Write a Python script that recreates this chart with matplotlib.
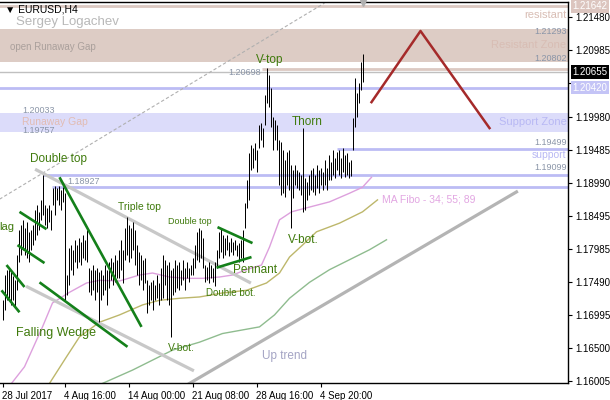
import numpy as np
import matplotlib
matplotlib.use("Agg")
import matplotlib.pyplot as plt
import matplotlib.transforms as mtransforms

plt.rcParams['font.family'] = ['Liberation Sans', 'DejaVu Sans']

# EURUSD H4 bars, 28 Jul - 8 Sep 2017 (high / low)
highs = [
    1.1722, 1.1760, 1.1768, 1.1771, 1.1764, 1.1759, 1.1752, 1.1790, 1.1828, 1.1835,
    1.1843, 1.1831, 1.1840, 1.1825, 1.1828, 1.1835, 1.1858, 1.1865, 1.1855, 1.1873,
    1.1910, 1.1865, 1.1861, 1.1865, 1.1858, 1.1891, 1.1894, 1.1891, 1.1894, 1.1888,
    1.1892, 1.1883, 1.1760, 1.1801, 1.1805, 1.1798, 1.1813, 1.1805, 1.1816, 1.1810,
    1.1820, 1.1813, 1.1828, 1.1771, 1.1768, 1.1775, 1.1768, 1.1771, 1.1764, 1.1768,
    1.1760, 1.1775, 1.1768, 1.1780, 1.1786, 1.1780, 1.1790, 1.1783, 1.1798, 1.1813,
    1.1798, 1.1831, 1.1847, 1.1835, 1.1831, 1.1840, 1.1828, 1.1805, 1.1795, 1.1790,
    1.1783, 1.1786, 1.1752, 1.1745, 1.1749, 1.1752, 1.1745, 1.1760, 1.1748, 1.1771,
    1.1790, 1.1783, 1.1775, 1.1780, 1.1768, 1.1771, 1.1783, 1.1775, 1.1780, 1.1768,
    1.1783, 1.1771, 1.1780, 1.1771, 1.1775, 1.1786, 1.1805, 1.1825, 1.1831, 1.1828,
    1.1816, 1.1775, 1.1772, 1.1780, 1.1775, 1.1771, 1.1780, 1.1798, 1.1825, 1.1831,
    1.1820, 1.1816, 1.1820, 1.1810, 1.1816, 1.1810, 1.1813, 1.1805, 1.1808, 1.1813,
    1.1828, 1.1868, 1.1903, 1.1943, 1.1956, 1.1951, 1.1959, 1.1948, 1.1986, 1.1989,
    1.1981, 1.2031, 1.2071, 1.2061, 1.2041, 1.1998, 1.1993, 1.1986, 1.1963, 1.1960,
    1.1948, 1.1933, 1.1945, 1.1948, 1.1925, 1.1918, 1.1925, 1.1918, 1.1915, 1.1910,
    1.1981, 1.1906, 1.1900, 1.1910, 1.1918, 1.1921, 1.1910, 1.1925, 1.1918, 1.1921,
    1.1915, 1.1933, 1.1921, 1.1940, 1.1930, 1.1948, 1.1936, 1.1945, 1.1948, 1.1936,
    1.1951, 1.1940, 1.1943, 1.1930, 1.1933, 1.1996, 1.2056, 1.2034, 1.2049, 1.2080,
    1.2092,
]
lows = [
    1.1692, 1.1707, 1.1722, 1.1725, 1.1715, 1.1722, 1.1710, 1.1737, 1.1780, 1.1790,
    1.1798, 1.1790, 1.1786, 1.1780, 1.1798, 1.1805, 1.1813, 1.1820, 1.1828, 1.1843,
    1.1850, 1.1835, 1.1831, 1.1840, 1.1828, 1.1865, 1.1850, 1.1873, 1.1865, 1.1858,
    1.1870, 1.1722, 1.1730, 1.1745, 1.1768, 1.1760, 1.1780, 1.1771, 1.1780, 1.1775,
    1.1786, 1.1783, 1.1780, 1.1734, 1.1730, 1.1737, 1.1722, 1.1734, 1.1689, 1.1722,
    1.1730, 1.1737, 1.1715, 1.1740, 1.1752, 1.1745, 1.1749, 1.1755, 1.1755, 1.1768,
    1.1748, 1.1783, 1.1790, 1.1780, 1.1786, 1.1798, 1.1775, 1.1760, 1.1745, 1.1752,
    1.1737, 1.1748, 1.1703, 1.1715, 1.1722, 1.1707, 1.1722, 1.1725, 1.1715, 1.1722,
    1.1725, 1.1745, 1.1722, 1.1715, 1.1667, 1.1730, 1.1734, 1.1740, 1.1737, 1.1745,
    1.1752, 1.1737, 1.1755, 1.1749, 1.1760, 1.1760, 1.1771, 1.1783, 1.1780, 1.1786,
    1.1771, 1.1749, 1.1752, 1.1748, 1.1755, 1.1749, 1.1743, 1.1771, 1.1786, 1.1795,
    1.1786, 1.1790, 1.1798, 1.1789, 1.1795, 1.1790, 1.1798, 1.1789, 1.1780, 1.1786,
    1.1780, 1.1831, 1.1861, 1.1873, 1.1918, 1.1921, 1.1933, 1.1915, 1.1951, 1.1963,
    1.1953, 1.1986, 1.2019, 1.2013, 1.1983, 1.1948, 1.1963, 1.1948, 1.1895, 1.1880,
    1.1883, 1.1877, 1.1895, 1.1888, 1.1831, 1.1876, 1.1895, 1.1891, 1.1888, 1.1880,
    1.1855, 1.1858, 1.1873, 1.1880, 1.1888, 1.1885, 1.1880, 1.1891, 1.1883, 1.1895,
    1.1888, 1.1895, 1.1888, 1.1903, 1.1903, 1.1910, 1.1906, 1.1918, 1.1910, 1.1906,
    1.1915, 1.1907, 1.1910, 1.1906, 1.1909, 1.1948, 1.1983, 1.1998, 1.2019, 1.2038,
    1.2050,
]
last_price = 1.20655

# moving averages (34 / 55 / 89), sampled off the chart: bar position, price
ma34_x = [4.5, 11, 20, 25, 33.5, 42, 48.5, 58.5, 68.5, 75, 83.5, 92, 100, 108.5,
          115, 122, 125, 129.5, 133.5, 138.5, 144.5, 152, 163.5, 173.5, 180, 184.5]
ma34_y = [1.1597, 1.1622, 1.1682, 1.1718, 1.1734, 1.1748, 1.1752, 1.1751, 1.1760,
          1.1763, 1.1757, 1.1755, 1.1755, 1.1757, 1.1760, 1.1768, 1.1771, 1.1775,
          1.1802, 1.1843, 1.1855, 1.1861, 1.1870, 1.1883, 1.1892, 1.1907]
ma55_x = [23.5, 32, 38.5, 48.5, 58.5, 70, 78.5, 88.5, 98.5, 110, 122, 132, 138.5,
          143.5, 150, 157, 168.5, 180, 187.5]
ma55_y = [1.1597, 1.1637, 1.1667, 1.1689, 1.1700, 1.1715, 1.1722, 1.1725, 1.1727,
          1.1733, 1.1737, 1.1748, 1.1763, 1.1787, 1.1805, 1.1825, 1.1838, 1.1855, 1.1873]
ma89_x = [50, 65, 75, 85, 98.5, 110, 128.5, 136, 143.5, 153.5, 163.5, 173.5, 183.5, 192]
ma89_y = [1.1597, 1.1617, 1.1632, 1.1647, 1.1659, 1.1672, 1.1682, 1.1700, 1.1725,
          1.1749, 1.1768, 1.1783, 1.1798, 1.1813]

ytick_vals = [1.16005, 1.16500, 1.16995, 1.17490, 1.17985, 1.18495, 1.18990,
              1.19485, 1.19980, 1.20490, 1.20985, 1.21480]
xtick_pos = [0, 31, 63, 95, 127, 159]
xtick_labels = ['28 Jul 2017', '4 Aug 16:00', '14 Aug 00:00', '21 Aug 08:00',
                '28 Aug 16:00', '4 Sep 20:00']

# levels
resist_top = 1.21642
resist_zone = (1.20802, 1.21293)
vtop_level = 1.20698
blue_level = 1.20420
gap_zone = (1.19757, 1.20033)
support_hi = 1.19499
support_lo = 1.19099
dtop_level = 1.18927

ROSE = '#dcc9c2'
ROSE_TXT = '#d8bdb4'
LAV = '#bcbcf4'
LAV_FILL = '#dcdcfa'
GRN = '#14801a'
LBL = '#3f7a0c'
PRICE_TXT = '#8a95a8'
GRAY = '#c8c8c8'

fig = plt.figure(figsize=(6.1, 4.0), dpi=100)
ax = fig.add_axes([0.0, 0.0425, 568 / 610, 0.9525])
# 2 px per bar, bar centres on pixel centres
ax.set_xlim(-1.25, 282.75)
ax.set_ylim(1.15976, 1.21706)

# zones and levels
ax.axhspan(*resist_zone, color='#ddccc5', lw=0, zorder=0)
ax.axhspan(*gap_zone, color=LAV_FILL, lw=0, zorder=0)
ax.axhline(resist_top, color=ROSE, lw=2, zorder=1)
ax.axhline(blue_level, color=LAV, lw=2, zorder=1)
ax.axhline(last_price, color='#c0c0c0', lw=1, zorder=1)
ax.hlines(vtop_level, 129.5, 282.75, color=ROSE, lw=2, zorder=1)
ax.hlines(support_hi, 167, 282.75, color=LAV, lw=2, zorder=1)
ax.hlines(support_lo, 20, 282.75, color=LAV, lw=2, zorder=1)
ax.hlines(dtop_level, 24.5, 282.75, color=LAV, lw=2, zorder=1)

# moving averages
ax.plot(ma34_x, ma34_y, color='#dda0dd', lw=1, zorder=2)
ax.plot(ma55_x, ma55_y, color='#bdb76b', lw=1, zorder=2)
ax.plot(ma89_x, ma89_y, color='#8fbc8f', lw=1, zorder=2)

# trend lines
ax.plot([-1.5, 161], [1.1874, 1.2169], color='#b0b0b0', lw=0.8, ls=(0, (3, 2)), zorder=2)
ax.plot([17, 123.5], [1.1918, 1.1749], color=GRAY, lw=2.3, zorder=2)
ax.plot([12.5, 95], [1.1742, 1.1617], color=GRAY, lw=2.3, zorder=2)
ax.plot([93.5, 257], [1.1597, 1.1885], color='#b4b4b4', lw=2.3, zorder=2)

green_lines = [
    ([8.5, 22], [1.1855, 1.1829]),
    ([7.5, 21], [1.1805, 1.1778]),
    ([2, 11], [1.1775, 1.1742]),
    ([-0.5, 8.5], [1.1737, 1.1704]),
    ([18.5, 62.5], [1.1749, 1.1652]),
    ([28.5, 69.5], [1.1907, 1.1682]),
    ([107.5, 125], [1.1832, 1.1808]),
    ([107, 124.5], [1.1771, 1.1787]),
]
for gx, gy in green_lines:
    ax.plot(gx, gy, color=GRN, lw=1.9, zorder=4, solid_capstyle='butt')

ax.plot([184.5, 209, 243.5], [1.2020, 1.2127, 1.1981], color='#a52a2a', lw=1.8, zorder=4)

# price bars
idx = np.arange(len(highs))
ax.vlines(idx, lows, highs, color='black', lw=0.72, zorder=3)

# labels
def lab(x, y, s, size, color=LBL, ha='left', va='center'):
    ax.text(x, y, s, fontsize=size, color=color, ha=ha, va=va, zorder=5)

lab(6.5, 1.2141, 'Sergey Logachev', 9.5, '#b8b8b8')
lab(4, 1.2103, 'open Runaway Gap', 7, '#aaa09c')
lab(10, 1.2008, '1.20033', 6.5, PRICE_TXT)
lab(10, 1.1990, 'Runaway Gap', 7.5, '#e2bcb3')
lab(10, 1.1978, '1.19757', 6.5, PRICE_TXT)
lab(32.5, 1.1901, '1.18927', 6.5, PRICE_TXT)
lab(129, 1.2065, '1.20698', 6.5, PRICE_TXT, ha='right')
lab(282, 1.2151, 'resistant', 8, ROSE_TXT, ha='right')
lab(282, 1.2126, '1.21293', 6.5, PRICE_TXT, ha='right')
lab(282, 1.2106, 'Resistant Zone', 8, ROSE_TXT, ha='right')
lab(282, 1.2086, '1.20802', 6.5, PRICE_TXT, ha='right')
lab(282, 1.1990, 'Support Zone', 8, '#b8b8f4', ha='right')
lab(282, 1.1960, '1.19499', 6.5, PRICE_TXT, ha='right')
lab(282, 1.1940, 'support', 7.5, '#b8b8f4', ha='right')
lab(282, 1.1922, '1.19099', 6.5, PRICE_TXT, ha='right')

lab(126.5, 1.2083, 'V-top', 8.5)
lab(144.5, 1.1990, 'Thorn', 8.5)
lab(13.5, 1.1934, 'Double top', 8.5)
lab(57.5, 1.1862, 'Triple top', 7.5)
lab(82.5, 1.1840, 'Double top', 6.5)
lab(-1.5, 1.1832, 'lag', 8)
lab(115, 1.1768, 'Pennant', 8.5)
lab(101.5, 1.1733, 'Double bot.', 7)
lab(82.5, 1.1650, 'V-bot.', 7.5)
lab(142.5, 1.1813, 'V-bot.', 8.5)
lab(7, 1.1673, 'Falling Wedge', 9)
lab(129.5, 1.1638, 'Up trend', 8.5, '#a4a4c4')
lab(189.5, 1.1874, 'MA Fibo - 34; 55; 89', 7.5, '#e2a6e2')

ax.text(0.008, 0.993, '\u25bc EURUSD,H4', transform=ax.transAxes, fontsize=7.5,
        ha='left', va='top', color='black', zorder=5)
ax.plot([180], [1.2169], marker='v', color='#b0b0b0', ms=5, zorder=5, clip_on=False)

# axes styling
ax.spines['left'].set_visible(False)
for side in ['top', 'right', 'bottom']:
    ax.spines[side].set_color('black')
    ax.spines[side].set_linewidth(1)

ax.yaxis.tick_right()
ax.set_yticks(ytick_vals)
# 1.20490 sits under the blue level box, leave its label blank
ax.set_yticklabels(['' if v == 1.20490 else '%.5f' % v for v in ytick_vals])
ax.set_xticks(xtick_pos)
ax.set_xticklabels(xtick_labels)
for t in ax.get_xticklabels():
    t.set_ha('left')
ax.tick_params(axis='both', labelsize=7, length=3, width=0.8, color='black', pad=2)
ax.tick_params(axis='x', pad=3)

# right-hand price boxes
trans = mtransforms.blended_transform_factory(ax.transAxes, ax.transData)
for val, bg, fg in [(resist_top, '#dcc5bf', 'white'), (last_price, 'black', 'white'),
                    (blue_level, '#c4c4f6', 'white')]:
    ax.text(1.008, val, '%.5f' % val, transform=trans, fontsize=7, color=fg,
            ha='left', va='center', zorder=6, clip_on=False,
            bbox=dict(boxstyle='square,pad=0.18', fc=bg, ec='none'))

fig.savefig('out.png', dpi=100)
